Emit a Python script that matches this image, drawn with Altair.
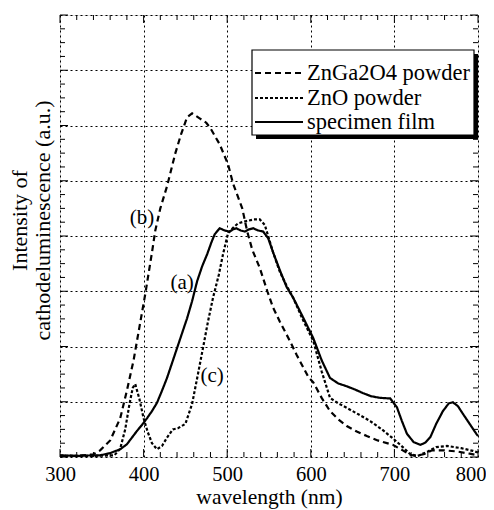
import altair as alt
import pandas as pd

# ---- data ----
series_names = ["ZnGa2O4 powder", "ZnO powder", "specimen film"]

znga_wl = [300, 320, 340, 348, 360, 372, 380, 388, 395, 402, 410, 414, 420, 428, 438, 445, 452, 458,
           467, 475, 480, 491, 501, 507, 518, 524, 530, 539, 548, 555, 563, 575, 583, 597, 603, 613,
           623, 633, 643, 655, 667, 680, 698, 710, 719, 725, 735, 745, 760, 775, 790, 800]
znga_val = [0.02, 0.02, 0.05, 0.12, 0.30, 0.70, 1.20, 1.75, 2.35, 2.95, 3.70, 4.10, 4.50, 4.90, 5.50, 5.85, 6.15, 6.22,
            6.13, 6.05, 5.95, 5.66, 5.30, 4.95, 4.50, 4.08, 3.75, 3.42, 3.00, 2.70, 2.45, 2.10, 1.85, 1.45, 1.35, 1.07,
            0.83, 0.68, 0.56, 0.46, 0.38, 0.30, 0.22, 0.12, 0.04, 0.02, 0.05, 0.12, 0.12, 0.10, 0.06, 0.03]

zno_wl = [300, 340, 365, 372, 378, 383, 387, 390, 395, 400, 405, 410, 416, 422, 428, 435, 441, 450, 458,
          465, 471, 477, 483, 490, 495, 501, 507, 513, 523, 532, 539, 545, 550, 555, 563, 571, 579, 590,
          603, 613, 623, 633, 643, 656, 671, 685, 698, 710, 719, 728, 740, 750, 763, 780, 794, 800]
zno_val = [0.02, 0.02, 0.03, 0.15, 0.50, 0.95, 1.25, 1.32, 1.05, 0.70, 0.45, 0.25, 0.14, 0.20, 0.35, 0.50, 0.52, 0.60, 0.96,
           1.50, 1.97, 2.45, 2.88, 3.30, 3.67, 4.05, 4.15, 4.23, 4.27, 4.30, 4.30, 4.20, 3.95, 3.70, 3.35, 3.10, 2.88, 2.50,
           2.10, 1.55, 1.07, 0.97, 0.89, 0.78, 0.65, 0.50, 0.34, 0.18, 0.05, 0.02, 0.10, 0.18, 0.20, 0.16, 0.11, 0.08]

film_wl = [300, 320, 340, 348, 360, 372, 380, 386, 392, 398, 404, 410, 416, 422, 428, 434, 440, 446, 452,
           458, 464, 470, 476, 481, 485, 491, 497, 503, 507, 511, 516, 521, 526, 531, 537, 543, 549, 555,
           563, 571, 579, 590, 603, 613, 623, 633, 643, 653, 662, 672, 683, 695, 703, 709, 715, 723, 731,
           737, 743, 750, 758, 765, 770, 776, 782, 790, 798, 800]
film_val = [0.03, 0.02, 0.03, 0.03, 0.07, 0.14, 0.23, 0.35, 0.47, 0.58, 0.70, 0.83, 0.98, 1.20, 1.43, 1.70, 1.97, 2.24, 2.51,
            2.82, 3.18, 3.45, 3.67, 3.88, 4.03, 4.14, 4.10, 4.08, 4.12, 4.14, 4.10, 4.08, 4.12, 4.14, 4.10, 4.08, 3.96, 3.70,
            3.38, 3.08, 2.88, 2.55, 2.15, 1.75, 1.43, 1.33, 1.28, 1.22, 1.16, 1.10, 1.07, 1.06, 0.90, 0.65, 0.42, 0.27, 0.22,
            0.26, 0.36, 0.60, 0.83, 0.97, 0.99, 0.92, 0.78, 0.60, 0.42, 0.38]

label_texts = ["(b)", "(a)", "(c)"]
label_wl = [398, 446, 482]
label_val = [4.32, 3.15, 1.46]

x_tick_labels = [300, 400, 500, 600, 700, 800]
x_minor = [w for w in range(300, 801, 20) if w % 100 != 0]
y_major = [0, 1, 2, 3, 4, 5, 6, 7, 8]
y_minor = [i / 4 for i in range(0, 33) if i % 4 != 0]

# ---- style ----
W, H = 418, 442
FONT = "Liberation Serif"
dashes = [[6, 4], [3, 2], [1, 0]]

rows = []
for name, xs_, ys_ in [(series_names[0], znga_wl, znga_val),
                       (series_names[1], zno_wl, zno_val),
                       (series_names[2], film_wl, film_val)]:
    for x, y in zip(xs_, ys_):
        rows.append({"series": name, "wl": x, "val": y})
df = pd.DataFrame(rows)

xs = alt.Scale(domain=[300, 800], nice=False, zero=False)
ys = alt.Scale(domain=[0, 8], nice=False)

XT = "wavelength (nm)"
YT = ["Intensity of", "cathodeluminescence (a.u.)"]

last_lbl = "datum.value == 800"

lines = alt.Chart(df).mark_line(color="black", strokeWidth=2.2, strokeCap="butt").encode(
    x=alt.X("wl:Q", scale=xs, title=XT, axis=alt.Axis(
        values=x_tick_labels, title=XT, ticks=False, domain=False,
        grid=True, gridColor="black", gridDash=[2, 3], gridWidth=1, gridOpacity=1,
        labelFont=FONT, labelFontSize=20.5, labelColor="black", labelPadding=7, labelBaseline="top",
        labelFlush=False,
        labelAlign={"condition": {"test": last_lbl, "value": "right"}, "value": "center"},
        labelOffset={"condition": {"test": last_lbl, "value": 8}, "value": 0},
        titleFont=FONT, titleFontSize=21.5, titleFontWeight="normal", titleColor="black",
        titleBaseline="middle", titleY=40)),
    y=alt.Y("val:Q", scale=ys, title=YT, axis=alt.Axis(
        values=y_major, labels=False, ticks=False, domain=False,
        grid=True, gridColor="black", gridDash=[2, 3], gridWidth=1, gridOpacity=1,
        title=YT,
        titleFont=FONT, titleFontSize=22, titleFontWeight="normal", titleColor="black",
        titleBaseline="middle", titleLineHeight=23, titleX=-41, titleY=205, titleAngle=270)),
    strokeDash=alt.StrokeDash("series:N", scale=alt.Scale(domain=series_names, range=dashes), legend=None),
    order=alt.Order("wl:Q"),
)

def tick_layer(frame, enc):
    return alt.Chart(frame).mark_rule(color="black", strokeWidth=1).encode(**enc)

xmaj = pd.DataFrame({"wl": x_tick_labels})
xmin = pd.DataFrame({"wl": x_minor})
ymaj = pd.DataFrame({"val": y_major})
ymin = pd.DataFrame({"val": y_minor})

XE = alt.X("wl:Q", scale=xs, title=XT)
YE = alt.Y("val:Q", scale=ys, title=YT)

ticks = [
    tick_layer(xmaj, dict(x=XE, y=alt.value(H), y2=alt.value(H - 8))),
    tick_layer(xmaj, dict(x=XE, y=alt.value(0), y2=alt.value(8))),
    tick_layer(xmin, dict(x=XE, y=alt.value(H), y2=alt.value(H - 5))),
    tick_layer(xmin, dict(x=XE, y=alt.value(0), y2=alt.value(5))),
    tick_layer(ymaj, dict(y=YE, x=alt.value(0), x2=alt.value(8))),
    tick_layer(ymaj, dict(y=YE, x=alt.value(W), x2=alt.value(W - 8))),
    tick_layer(ymin, dict(y=YE, x=alt.value(0), x2=alt.value(5))),
    tick_layer(ymin, dict(y=YE, x=alt.value(W), x2=alt.value(W - 5))),
]

labels = alt.Chart(pd.DataFrame({"t": label_texts, "wl": label_wl, "val": label_val})).mark_text(
    font=FONT, fontSize=21, color="black", align="center", baseline="middle").encode(
    x=XE, y=YE, text="t:N")

# ---- legend box (manual, to get long line samples) ----
one = pd.DataFrame({"a": [0]})
shadow = alt.Chart(one).mark_rect(color="black").encode(
    x=alt.value(196), x2=alt.value(W), y=alt.value(39), y2=alt.value(124))
box = alt.Chart(one).mark_rect(fill="white", stroke="black", strokeWidth=1.2).encode(
    x=alt.value(192), x2=alt.value(414), y=alt.value(35), y2=alt.value(120))
leg_layers = []
row_y = [58, 83, 107]
for name, d, ry in zip(series_names, dashes, row_y):
    leg_layers.append(alt.Chart(one).mark_rule(color="black", strokeWidth=2, strokeDash=d).encode(
        x=alt.value(195), x2=alt.value(243), y=alt.value(ry)))
    leg_layers.append(alt.Chart(pd.DataFrame({"t": [name]})).mark_text(
        font=FONT, fontSize=22.5, color="black", align="left", baseline="middle").encode(
        x=alt.value(247), y=alt.value(ry), text="t:N"))

chart = alt.layer(lines, *ticks, labels, shadow, box, *leg_layers).properties(
    width=W, height=H,
    autosize=alt.AutoSizeParams(type="none"),
    padding={"left": 52, "top": 7, "right": 8, "bottom": 52},
).configure_view(stroke="black", strokeWidth=1.5).configure(background="white")

chart.save("out.html", embed_options={"renderer": "svg", "actions": False})
